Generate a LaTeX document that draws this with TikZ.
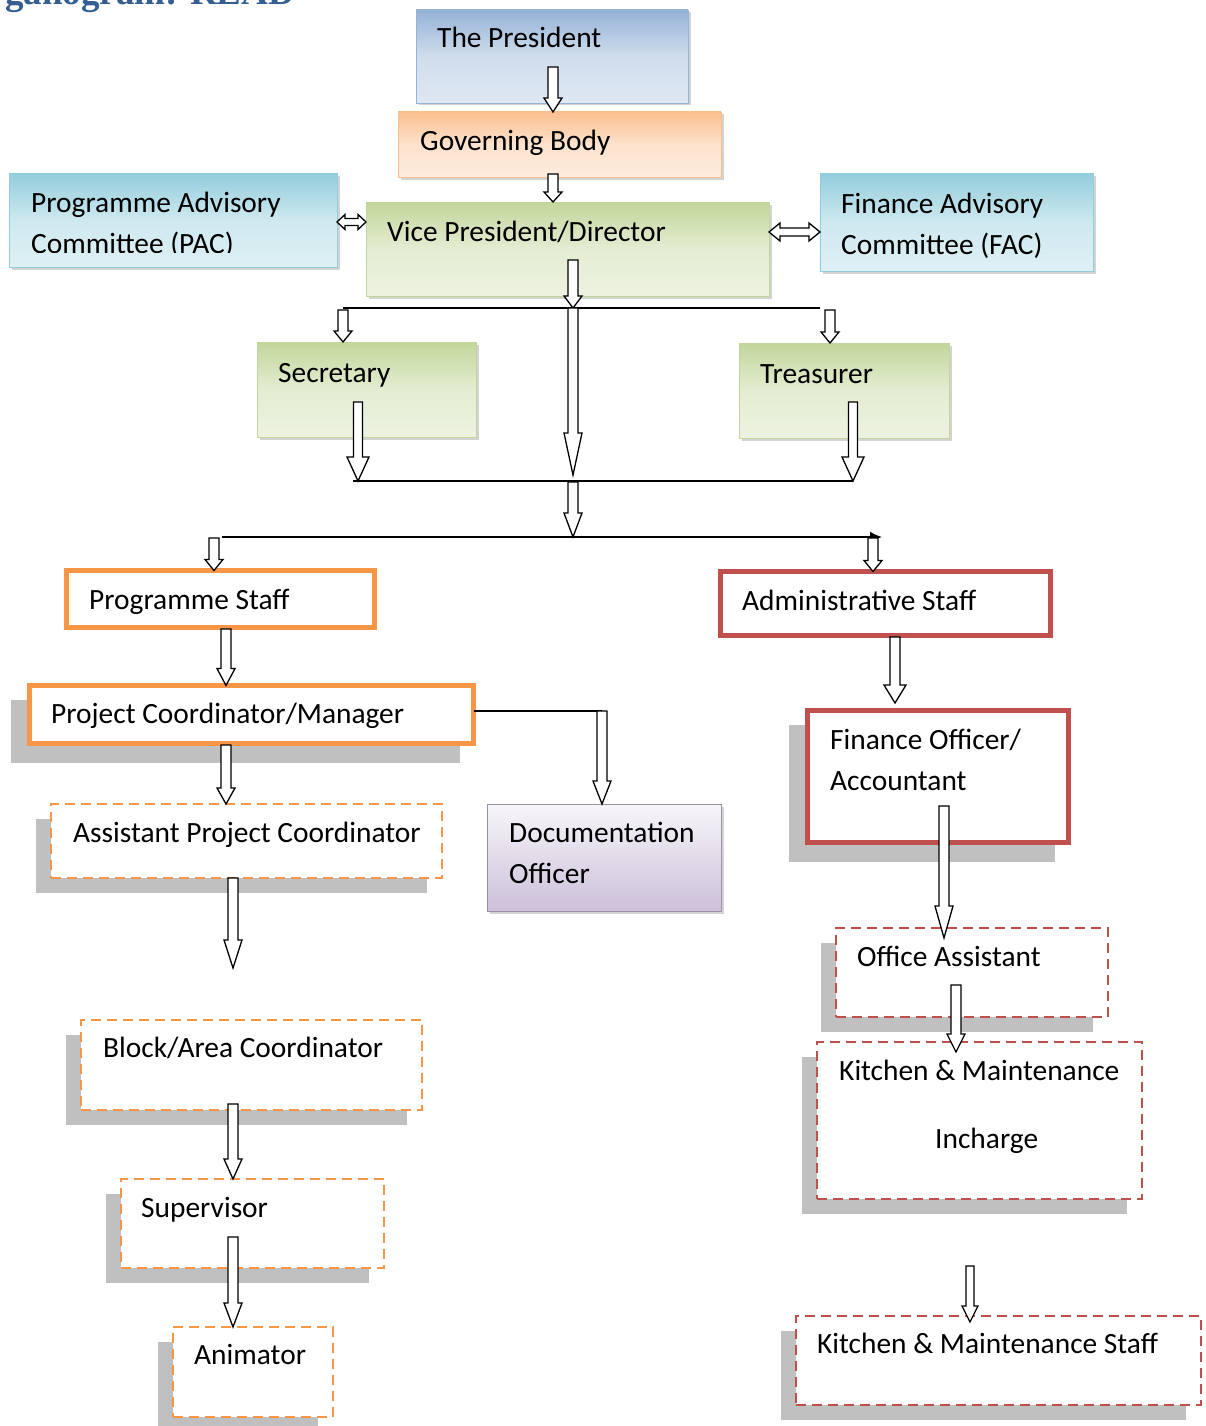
\documentclass[tikz,border=0pt]{standalone}
\usepackage{fontspec}
\setmainfont{Carlito}
\newfontfamily\headfont{Liberation Serif}
\usetikzlibrary{calc}
\usetikzlibrary{shadows}
\usetikzlibrary{arrows.meta}

\definecolor{presblue}{RGB}{149,179,215}
\definecolor{govorange}{RGB}{250,191,143}
\definecolor{advaqua}{RGB}{146,205,220}
\definecolor{mgmtgreen}{RGB}{194,214,155}
\definecolor{docpurple}{RGB}{204,192,218}
\definecolor{progorange}{RGB}{247,150,70}
\definecolor{adminred}{RGB}{192,80,77}
\definecolor{shadowgray}{RGB}{192,192,192}
\definecolor{titleblue}{RGB}{54,95,145}

\tikzset{
	ashaft/.store in=\ashaft, ashaft=5,
	ahead/.store in=\ahead, ahead=9,
	alen/.store in=\alen, alen=14,
	gradbox/.style={rectangle, inner sep=0pt, outer sep=0pt, draw=#1, line width=0.8pt, top color=#1, bottom color=#1!30, middle color=#1!45, drop shadow={shadow xshift=2.5pt, shadow yshift=-2.5pt, opacity=0.35}},
	docbox/.style={rectangle, inner sep=0pt, outer sep=0pt, draw=docpurple!70!black!90, line width=1pt, top color=docpurple!15, bottom color=docpurple, drop shadow={shadow xshift=2.5pt, shadow yshift=-2.5pt, opacity=0.35}},
	greyshadow/.style={drop shadow={shadow xshift=-15pt, shadow yshift=-15pt, fill=shadowgray, opacity=1}},
	thickshadow/.style={drop shadow={shadow xshift=-16pt, shadow yshift=-17pt, fill=shadowgray, draw=shadowgray, line width=5pt, opacity=1}},
	staffbox/.style={rectangle, inner sep=0pt, outer sep=0pt, draw=#1, line width=5pt, fill=white},
	dashbox/.style={rectangle, inner sep=0pt, outer sep=0pt, draw=#1, line width=2.4pt, dash pattern=on 10pt off 6pt, fill=white, greyshadow},
	% text sits at the top left of each box
	txt/.style={anchor=base west, inner sep=0pt, font=\fontsize{29.4}{41}\selectfont},
	busline/.style={draw, line width=1.8pt},
	bigarrow/.style={draw, fill=white, line width=1.3pt, line join=miter, to path={
		let \p1=(\tikztostart), \p2=(\tikztotarget) in
		(\x1-\ashaft,\y1) -- (\x1+\ashaft,\y1) -- (\x1+\ashaft,\y2+\alen) -- (\x1+\ahead,\y2+\alen)
		-- (\x1,\y2) -- (\x1-\ahead,\y2+\alen) -- (\x1-\ashaft,\y2+\alen) -- cycle}},
	dblarrow/.style={draw, fill=white, line width=1.3pt, line join=miter, to path={
		let \p1=(\tikztostart), \p2=(\tikztotarget) in
		(\x1,\y1) -- (\x1+\alen,\y1+\ahead) -- (\x1+\alen,\y1+\ashaft) -- (\x2-\alen,\y1+\ashaft)
		-- (\x2-\alen,\y1+\ahead) -- (\x2,\y1) -- (\x2-\alen,\y1-\ahead) -- (\x2-\alen,\y1-\ashaft)
		-- (\x1+\alen,\y1-\ashaft) -- (\x1+\alen,\y1-\ahead) -- cycle}}
}

\begin{document}
\begin{tikzpicture}[x=1pt, y=-1pt]
	\useasboundingbox (0,0) rectangle (1205,1426);
	\node (title) [anchor=base west, inner sep=0pt, text=titleblue, font=\headfont\bfseries\fontsize{37}{44}\selectfont] at (5,5) {ganogram: READ};

	% governing level
	\node (pres) [gradbox=presblue, minimum width=272, minimum height=93] at (552,56.5) {};
	\node (gov) [gradbox=govorange, minimum width=323, minimum height=65] at (559.5,144.5) {};
	\node (pac) [gradbox=advaqua, minimum width=328, minimum height=94] at (173,220) {};
	\node (vp) [gradbox=mgmtgreen, minimum width=403, minimum height=94] at (567.5,249) {};
	\node (fac) [gradbox=advaqua, minimum width=273, minimum height=98] at (956.5,222) {};
	\node (sec) [gradbox=mgmtgreen, minimum width=219, minimum height=95] at (366.5,389.5) {};
	\node (tre) [gradbox=mgmtgreen, minimum width=210, minimum height=95] at (844,390.5) {};

	\node (presT) [txt] at (437,48) {The President};
	\node (govT) [txt] at (420,150) {Governing Body};
	\node (pacT1) [txt] at (31,212) {Programme Advisory};
	\begin{scope}
		\clip (0,0) rectangle (400,252);
		\node (pacT2) [txt] at (31,253) {Committee (PAC)};
	\end{scope}
	\node (vpT) [txt] at (387,241) {Vice President/Director};
	\node (facT1) [txt] at (841,213) {Finance Advisory};
	\node (facT2) [txt] at (841,254) {Committee (FAC)};
	\node (secT) [txt] at (278,382) {Secretary};
	\node (treT) [txt] at (760,383) {Treasurer};

	% programme side
	\node (ps) [staffbox=progorange, minimum width=308, minimum height=57] at (220.5,599) {};
	\node (pcm) [staffbox=progorange, thickshadow, minimum width=444, minimum height=58] at (251.5,714.5) {};
	\node (apc) [dashbox=progorange, minimum width=391, minimum height=74] at (246.5,841) {};
	\node (doc) [docbox, minimum width=234, minimum height=107] at (604,857.5) {};
	\node (bac) [dashbox=progorange, minimum width=341, minimum height=90] at (251.5,1065) {};
	\node (sup) [dashbox=progorange, minimum width=263, minimum height=89] at (252.5,1223.5) {};
	\node (ani) [dashbox=progorange, minimum width=160, minimum height=90] at (253,1372) {};

	\node (psT) [txt] at (89,609) {Programme Staff};
	\node (pcmT) [txt] at (51,723) {Project Coordinator/Manager};
	\node (apcT) [txt] at (73,842) {Assistant Project Coordinator};
	\node (docT1) [txt] at (509,842) {Documentation};
	\node (docT2) [txt] at (509,883) {Officer};
	\node (bacT) [txt] at (103,1057) {Block/Area Coordinator};
	\node (supT) [txt] at (141,1217) {Supervisor};
	\node (aniT) [txt] at (194,1364) {Animator};

	% administrative side
	\node (as) [staffbox=adminred, minimum width=330, minimum height=64] at (885.5,603.5) {};
	\node (fo) [staffbox=adminred, thickshadow, minimum width=261, minimum height=132] at (938,776.5) {};
	\node (oa) [dashbox=adminred, minimum width=272, minimum height=89] at (972,972.5) {};
	\node (ki) [dashbox=adminred, minimum width=325, minimum height=157] at (979.5,1120.5) {};
	\node (ks) [dashbox=adminred, minimum width=405, minimum height=89] at (998.5,1360.5) {};

	\node (asT) [txt] at (742,610) {Administrative Staff};
	\node (foT1) [txt] at (830,749) {Finance Officer/};
	\node (foT2) [txt] at (830,790) {Accountant};
	\node (oaT) [txt] at (857,966) {Office Assistant};
	\node (kiT1) [txt] at (839,1080) {Kitchen \& Maintenance};
	\node (kiT2) [txt] at (935,1148) {Incharge};
	\node (ksT) [txt] at (817,1353) {Kitchen \& Maintenance Staff};

	% bus lines
	\coordinate (busA) at (343,308);
	\coordinate (busAend) at (820,308);
	\coordinate (busB) at (353,481);
	\coordinate (busBend) at (853,481);
	\coordinate (busC) at (222,537);
	\coordinate (busCend) at (882,537);
	\coordinate (docturn) at (602,711);
	\draw[busline] (busA) -- (busAend);
	\draw[busline] (busB) -- (busBend);
	\draw[busline, -{Latex[length=12pt, width=11pt]}] (busC) -- (busCend);
	\draw[busline] (pcm.east |- docturn) -- (docturn);

	% block arrows
	\draw[dblarrow, ashaft=3.5, ahead=7.5, alen=8] (pac.east |- 0,222) to (vp.west |- 0,222);
	\draw[dblarrow, ashaft=4, ahead=9, alen=11] (vp.east |- 0,232) to (fac.west |- 0,232);
	\draw[bigarrow] (553,67) to (553,0 |- gov.north);
	\draw[bigarrow, alen=10] (553,174) to (553,0 |- vp.north);
	\draw[bigarrow, alen=12] (573,260) to (573,0 |- busA);
	\draw[bigarrow, alen=11] (343,310) to (343,0 |- sec.north);
	\draw[bigarrow, alen=11] (830,310) to (830,0 |- tre.north);
	\draw[bigarrow, alen=42] (573,308) to (573,475);
	\draw[bigarrow, ashaft=4.5, ahead=11, alen=24] (358,402) to (358,0 |- busB);
	\draw[bigarrow, ashaft=4.5, ahead=11, alen=24] (853,402) to (853,0 |- busB);
	\draw[bigarrow, alen=24] (573,482) to (573,0 |- busC);
	\draw[bigarrow, alen=11] (214,538) to (214,0 |- ps.north);
	\draw[bigarrow, alen=11] (873,538) to (873,0 |- as.north);
	\draw[bigarrow, alen=17] (226,629) to (226,0 |- pcm.north);
	\draw[bigarrow, alen=16] (226,745) to (226,0 |- apc.north);
	\draw[bigarrow, alen=23] (docturn) to (602,0 |- doc.north);
	\draw[bigarrow, ahead=11, alen=18] (895,637) to (895,703);
	\draw[bigarrow, alen=32] (944,806) to (944,938);
	\draw[bigarrow, alen=18] (956,985) to (956,1052);
	\draw[bigarrow, ashaft=4, ahead=8, alen=16] (970,1266) to (970,1322);
	\draw[bigarrow, alen=28] (233,878) to (233,968);
	\draw[bigarrow, alen=20] (233,1104) to (233,0 |- sup.north);
	\draw[bigarrow, alen=24] (233,1237) to (233,0 |- ani.north);
\end{tikzpicture}
\end{document}
